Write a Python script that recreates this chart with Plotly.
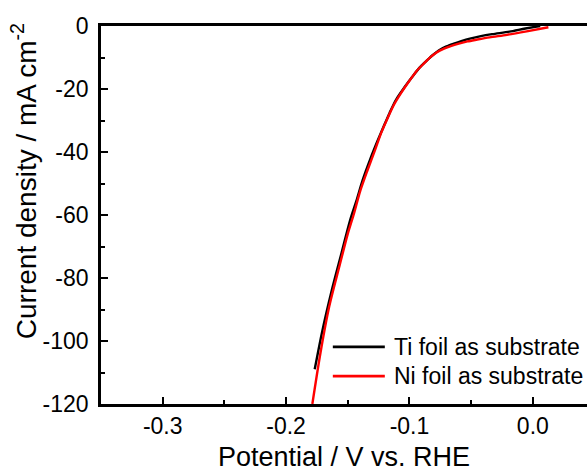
import plotly.graph_objects as go

# LSV polarization curves (potential in V vs. RHE, current density in mA cm^-2)
ti_potential = [-0.1768, -0.171, -0.163, -0.155, -0.148, -0.143, -0.138, -0.132, -0.126,
                -0.1205, -0.116, -0.111, -0.105, -0.098, -0.092, -0.086, -0.081, -0.076,
                -0.070, -0.064, -0.058, -0.051, -0.043, -0.033, -0.019, -0.006, 0.006]
ti_current = [-109, -97.5, -84, -72, -61.5, -55.5, -49, -42.5, -36.6,
              -31.5, -27.5, -23.5, -20, -16.3, -13.3, -11.0, -9.2, -7.7,
              -6.5, -5.6, -4.8, -4.0, -3.3, -2.6, -1.8, -0.8, 0.0]

ni_potential = [-0.1787, -0.172, -0.165, -0.157, -0.150, -0.145, -0.140, -0.134, -0.128,
                -0.123, -0.118, -0.113, -0.107, -0.100, -0.094, -0.088, -0.083, -0.078,
                -0.072, -0.066, -0.060, -0.053, -0.045, -0.035, -0.021, -0.005, 0.0126]
ni_current = [-120, -103.5, -89, -76.6, -66, -59.6, -52.5, -45.8, -39.5,
              -34, -29.5, -25.3, -21.4, -17.4, -14.2, -11.8, -9.9, -8.4,
              -7.2, -6.3, -5.6, -4.9, -4.3, -3.6, -2.8, -1.7, -0.4]

series_names = ["Ti foil as substrate", "Ni foil as substrate"]
series_colors = ["black", "#ff0000"]

x_ticks = [-0.3, -0.2, -0.1, 0.0]
x_ticklabels = ["-0.3", "-0.2", "-0.1", "0.0"]
y_ticks = [-120, -100, -80, -60, -40, -20, 0]
y_ticklabels = ["-120", "-100", "-80", "-60", "-40", "-20", "0"]

FONT = "Liberation Sans, Arial, sans-serif"

fig = go.Figure()
for xs, ys, name, color in zip([ti_potential, ni_potential], [ti_current, ni_current],
                               series_names, series_colors):
    fig.add_trace(go.Scatter(x=xs, y=ys, mode="lines", name=name, showlegend=False,
                             line=dict(color=color, width=2.4, shape="spline", smoothing=0.8)))

# legend drawn as line samples plus labels inside the lower-right corner
legend_rows_y = [0.151, 0.074]
for name, color, ly in zip(series_names, series_colors, legend_rows_y):
    fig.add_shape(type="line", xref="paper", yref="paper",
                  x0=0.477, x1=0.584, y0=ly, y1=ly,
                  line=dict(color=color, width=2.8))
    fig.add_annotation(xref="paper", yref="paper", x=0.598, y=ly,
                       xanchor="left", yanchor="middle", showarrow=False,
                       text=name, font=dict(size=23))

# vertical axis title, placed a little above the plot-area centre
fig.add_annotation(xref="paper", yref="paper", x=-0.158, y=0.59,
                   xanchor="center", yanchor="middle", showarrow=False,
                   textangle=-90, text="Current density / mA cm<sup>-2</sup>",
                   font=dict(size=28))

fig.update_layout(
    width=587, height=472,
    margin=dict(l=101, r=0, t=26, b=68),
    plot_bgcolor="white", paper_bgcolor="white",
    font=dict(family=FONT, size=23, color="black"),
    showlegend=False,
)
fig.update_xaxes(
    range=[-0.35, 0.0439], showgrid=False, zeroline=False, automargin=False,
    showline=True, linecolor="black", linewidth=2.6, mirror=True,
    ticks="inside", ticklen=7, tickwidth=2, tickcolor="black",
    tickvals=x_ticks, ticktext=x_ticklabels,
    minor=dict(ticks="inside", ticklen=4, tickwidth=2, tickcolor="black", dtick=0.05),
    title=dict(text="Potential / V vs. RHE", font=dict(size=27), standoff=16),
    tickfont=dict(size=23),
)
fig.update_yaxes(
    range=[-120, 0], showgrid=False, zeroline=False, automargin=False,
    showline=True, linecolor="black", linewidth=2.6,
    ticks="inside", ticklen=7, tickwidth=2, tickcolor="black",
    tickvals=y_ticks, ticktext=y_ticklabels, ticklabelstandoff=5,
    minor=dict(ticks="inside", ticklen=4, tickwidth=2, tickcolor="black", dtick=10),
    tickfont=dict(size=23),
)

fig.write_html("out.html")
